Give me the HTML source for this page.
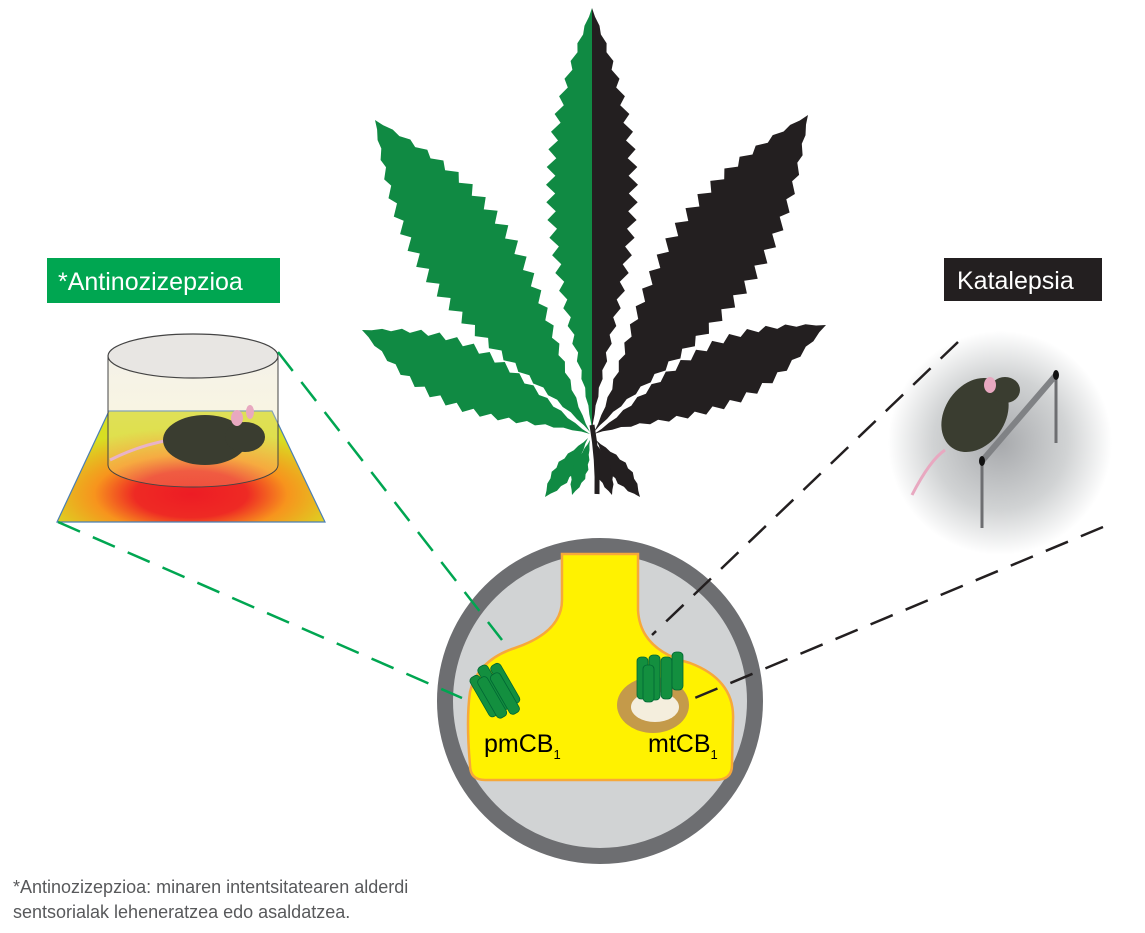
<!DOCTYPE html>
<html><head><meta charset="utf-8"><style>
html,body{margin:0;padding:0;background:#fff;}
svg{display:block;}
text{font-family:"Liberation Sans",sans-serif;}
</style></head><body>
<svg id="s" width="1145" height="933" viewBox="0 0 1145 933" xmlns="http://www.w3.org/2000/svg">
<defs>
<radialGradient id="heat" cx="0.5" cy="0.75" r="0.6">
<stop offset="0" stop-color="#ed1c24"/><stop offset="0.35" stop-color="#ee2a24"/><stop offset="0.6" stop-color="#f7941d"/><stop offset="1" stop-color="#d7df23"/>
</radialGradient>
<linearGradient id="cyl" x1="0" y1="0" x2="0" y2="1">
<stop offset="0" stop-color="#e6e2cf" stop-opacity="0.9"/><stop offset="1" stop-color="#f5e08a" stop-opacity="0.5"/>
</linearGradient>
<radialGradient id="glow" cx="0.5" cy="0.5" r="0.5">
<stop offset="0" stop-color="#a7a9ac"/><stop offset="0.6" stop-color="#d1d3d4"/><stop offset="1" stop-color="#fff"/>
</radialGradient>
</defs>
<g id="leaf"></g>
<rect x="47" y="258" width="233" height="45" fill="#00a651"/>
<text x="58" y="290" font-size="25" fill="#fff">*Antinozizepzioa</text>
<rect x="944" y="258" width="158" height="43" fill="#231f20"/>
<text x="957" y="289" font-size="25" fill="#fff">Katalepsia</text>
<polygon points="57,522 325,522 272,411 109,411" fill="url(#heat)" stroke="#4a7fb5" stroke-width="1.2"/>
<path d="M108,356 V465 A85,22 0 0 0 278,465 V356" fill="url(#cyl)" fill-opacity="0.5" stroke="#444" stroke-width="1"/>
<ellipse cx="193" cy="356" rx="85" ry="22" fill="#e8e6e3" stroke="#444" stroke-width="1.2"/>
<path d="M110,460 Q140,445 170,440" stroke="#e8b3c8" stroke-width="3" fill="none"/>
<ellipse cx="205" cy="440" rx="42" ry="25" fill="#3a3d30"/>
<ellipse cx="245" cy="437" rx="20" ry="15" fill="#3a3d30"/>
<ellipse cx="237" cy="418" rx="6" ry="8" fill="#e8a8c0"/>
<ellipse cx="250" cy="412" rx="4" ry="7" fill="#e8a8c0"/>
<circle cx="1000" cy="443" r="112" fill="url(#glow)"/>
<line x1="982" y1="461" x2="982" y2="528" stroke="#6d6e71" stroke-width="3"/>
<line x1="1056" y1="375" x2="1056" y2="443" stroke="#6d6e71" stroke-width="3"/>
<line x1="982" y1="461" x2="1056" y2="375" stroke="#808285" stroke-width="6"/>
<ellipse cx="982" cy="461" rx="3" ry="5" fill="#111"/>
<ellipse cx="1056" cy="375" rx="3" ry="5" fill="#111"/>
<path d="M912,495 Q930,460 945,450" stroke="#e8a8c0" stroke-width="3" fill="none"/>
<ellipse cx="975" cy="415" rx="30" ry="40" fill="#3a3d30" transform="rotate(35 975 415)"/>
<ellipse cx="1005" cy="390" rx="15" ry="13" fill="#3a3d30"/>
<ellipse cx="990" cy="385" rx="6" ry="8" fill="#e8a8c0"/>
<circle cx="600" cy="701" r="155" fill="#d1d3d4" stroke="#6d6e71" stroke-width="16"/>
<path d="M562,554 L638,554 L638,610 Q640,650 690,663 Q735,680 733,720 L732,765 Q732,780 715,780 L485,780 Q470,780 470,765 Q466,720 470,692 Q478,660 515,648 Q562,632 562,600 Z" fill="#fff200" stroke="#f7a83a" stroke-width="2.5"/>
<ellipse cx="653" cy="705" rx="36" ry="28" fill="#c49a4a"/>
<ellipse cx="655" cy="707" rx="24" ry="15" fill="#f4eedd"/>
<g fill="#138f3f" stroke="#063" stroke-width="0.8">
<g transform="rotate(-30 500 690)">
<rect x="478" y="665" width="11" height="45" rx="4"/><rect x="490" y="660" width="11" height="50" rx="4"/><rect x="502" y="665" width="11" height="45" rx="4"/><rect x="484" y="670" width="11" height="45" rx="4"/><rect x="497" y="673" width="11" height="45" rx="4"/>
</g>
<rect x="637" y="657" width="11" height="42" rx="4"/><rect x="649" y="655" width="11" height="45" rx="4"/><rect x="661" y="657" width="11" height="42" rx="4"/><rect x="672" y="652" width="11" height="38" rx="4"/><rect x="643" y="665" width="11" height="37" rx="4"/>
</g>
<g stroke-dasharray="24,14" stroke-width="2.5" fill="none">
<line x1="278" y1="352" x2="502" y2="640" stroke="#00a651"/>
<line x1="58" y1="522" x2="462" y2="698" stroke="#00a651"/>
<line x1="958" y1="342" x2="652" y2="635" stroke="#231f20"/>
<line x1="1103" y1="527" x2="690" y2="700" stroke="#231f20"/>
</g>
<text x="484" y="752" font-size="25" fill="#000">pmCB<tspan font-size="13" dy="7">1</tspan></text>
<text x="648" y="752" font-size="25" fill="#000">mtCB<tspan font-size="13" dy="7">1</tspan></text>
<text x="13" y="893" font-size="18" fill="#58595b">*Antinozizepzioa: minaren intentsitatearen alderdi</text>
<text x="13" y="918" font-size="18" fill="#58595b">sentsorialak leheneratzea edo asaldatzea.</text>
</svg>
<script>
(function(){
var g=document.getElementById('leaf');var NS='http://www.w3.org/2000/svg';
function leaflet(bx,by,tx,ty,hw,color,side){
 var dx=tx-bx,dy=ty-by,L=Math.hypot(dx,dy),nx=-dy/L,ny=dx/L;
 var n=Math.max(6,Math.round(L/18));
 function w(t){return hw*Math.sin(Math.PI*Math.pow(t,1.25));}
 var left=[],right=[];
 for(var i=0;i<=n*2;i++){var t=i/(n*2);var ww=w(t)*(i%2?0.8:1);
  left.push([bx+dx*t+nx*ww,by+dy*t+ny*ww]);right.push([bx+dx*t-nx*ww,by+dy*t-ny*ww]);}
 var p;
 if(side===0){p=left.concat(right.reverse());}
 else if(side===1){p=left.concat([[tx,ty],[bx,by]]);}
 else{p=right.concat([[tx,ty],[bx,by]]);}
 var e=document.createElementNS(NS,'polygon');
 e.setAttribute('points',p.map(function(a){return a[0].toFixed(1)+','+a[1].toFixed(1)}).join(' '));
 e.setAttribute('fill',color);g.appendChild(e);
}
var G='#108a43',B='#231f20';
leaflet(592,432,592,8,46,G,-1);
leaflet(592,432,592,8,46,B,1);
leaflet(590,432,375,120,50,G,0);
leaflet(590,434,362,330,34,G,0);
leaflet(594,432,808,115,50,B,0);
leaflet(594,434,826,325,34,B,0);
leaflet(588,438,545,497,10,G,0);
leaflet(590,440,572,495,8,G,0);
leaflet(596,440,640,497,10,B,0);
leaflet(594,440,612,495,8,B,0);
var st=document.createElementNS(NS,'path');st.setAttribute('d','M592,425 Q598,460 597,494');st.setAttribute('stroke',B);st.setAttribute('stroke-width','5');st.setAttribute('fill','none');g.appendChild(st);
})();
</script>
</body></html>
